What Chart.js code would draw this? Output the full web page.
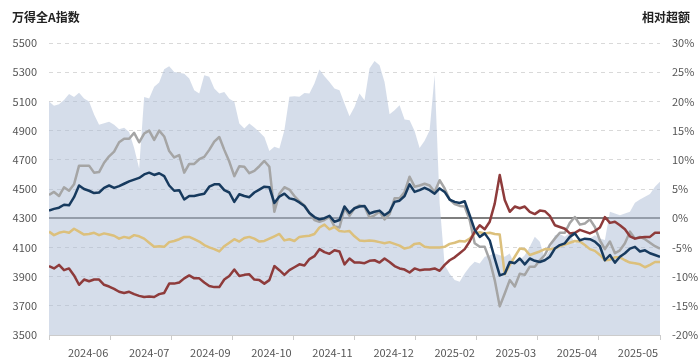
<!DOCTYPE html>
<html lang="zh">
<head>
<meta charset="UTF-8">
<title>万得全A指数 与 相对超额</title>
<script src="https://cdn.jsdelivr.net/npm/chart.js"></script>
<style>
  html, body { margin: 0; padding: 0; background: #fff; }
  #wrap { width: 700px; height: 362px; }
</style>
</head>
<body>
<div id="wrap"><canvas id="chart" width="700" height="362"></canvas></div>
<script>
// 万得全A指数 (左轴)
const indexLevel = [
  5100, 5070, 5080, 5110, 5150, 5130, 5160, 5120, 5100, 5010, 4940, 4950, 4960, 4940, 4910, 4920, 4890, 4780, 4640, 5130, 5120, 5200, 5230, 5320, 5340,
  5302, 5297, 5290, 5256, 5176, 5154, 5279, 5268, 5188, 5154, 5165, 5119, 5097, 4948, 4914, 4948, 4921, 4891, 4857, 4760, 4789, 4777, 4903, 5131,
  5135, 5131, 5158, 5154, 5222, 5318, 5272, 5233, 5188, 5176, 5085, 4998, 5062, 5154, 5108, 5325, 5377, 5347, 5233, 5012, 5040, 5074, 4976, 4971, 4898,
  4780, 4830, 4900, 5280, 4400, 3980, 3920, 3876, 3865, 3922, 3968, 4002, 3990, 4036, 4047, 4059, 4047, 4036, 4059, 3979, 4013, 4047, 4104, 4173, 4139,
  4025, 4082, 4184, 4191, 4173, 4200, 4123, 4168, 4150, 4161, 4184, 4161, 4150, 4344, 4333, 4321, 4333, 4344, 4405, 4428, 4447, 4465, 4515, 4549
];

// 相对超额 (右轴, %)
const navySeries = [
  1.3, 1.6, 1.8, 2.3, 2.2, 3.6, 5.6, 5.0, 4.7, 4.3, 4.4, 5.2, 5.6, 5.2, 5.5, 5.9, 6.3, 6.6, 6.9, 7.5, 7.8, 7.4, 7.7, 7.2, 5.6,
  4.7, 4.8, 3.2, 3.8, 3.8, 4.0, 4.2, 5.4, 5.8, 5.8, 4.8, 4.4, 2.8, 4.1, 3.8, 3.6, 4.4, 4.9, 5.4, 5.3, 2.6, 3.7, 4.2, 3.4,
  3.2, 2.7, 2.1, 0.9, 0.2, -0.2, 0.0, 0.4, -0.6, -0.3, 2.0, 0.9, 1.7, 2.0, 2.1, 0.8, 1.1, 1.3, 0.5, 1.1, 2.8, 3.0, 3.8, 5.8, 4.5,
  4.8, 5.2, 4.8, 4.2, 5.1, 4.5, 3.2, 2.8, 2.6, 2.9, 0.5, -2.0, -3.2, -2.6, -3.8, -6.9, -9.8, -9.5, -7.5, -7.7, -6.9, -7.9, -6.9, -7.3, -7.5,
  -7.2, -6.6, -5.2, -4.6, -4.3, -3.2, -2.6, -3.8, -3.5, -3.6, -4.0, -4.8, -7.2, -6.3, -7.6, -6.6, -6.0, -5.2, -4.9, -5.7, -5.5, -6.0, -6.3, -6.6
];
const graySeries = [
  4.0, 4.5, 3.8, 5.3, 4.7, 5.8, 9.0, 9.0, 9.0, 7.8, 7.9, 9.5, 10.6, 11.4, 13.0, 13.6, 13.6, 14.6, 13.0, 14.5, 15.0, 13.4, 15.0, 14.0, 11.5,
  10.4, 10.8, 7.8, 9.3, 9.3, 10.1, 10.5, 11.7, 13.1, 13.9, 11.7, 9.7, 7.2, 8.9, 8.8, 7.7, 8.1, 8.9, 9.8, 8.8, 1.1, 4.2, 5.3, 4.9,
  3.8, 2.9, 2.2, 0.9, -0.3, -0.6, -0.3, 0.2, -1.4, -1.6, 1.7, 0.4, 1.7, 2.2, 2.0, 0.1, 0.5, 1.1, -0.2, 0.7, 3.4, 3.4, 4.5, 7.1, 5.4,
  5.6, 5.9, 5.6, 4.5, 6.5, 5.1, 3.2, 2.4, 2.1, 2.0, -0.3, -4.3, -4.9, -4.9, -7.2, -10.6, -15.1, -12.9, -10.6, -11.7, -9.5, -9.7, -8.3, -8.3, -7.2,
  -6.3, -4.6, -3.5, -2.5, -2.5, -0.8, 0.2, -1.1, -0.9, -0.2, -1.5, -3.8, -5.3, -4.0, -6.0, -5.5, -4.3, -2.3, -3.5, -3.2, -3.6, -4.2, -4.8, -5.2
];
const goldSeries = [
  -2.3, -2.9, -2.5, -2.3, -2.5, -1.8, -2.3, -2.8, -2.7, -2.5, -2.9, -2.6, -2.8, -3.0, -3.5, -3.2, -3.4, -2.9, -3.1, -3.5, -4.2, -4.9, -4.8, -4.9, -4.1,
  -3.9, -3.6, -3.2, -3.2, -3.6, -4.0, -4.6, -5.0, -5.3, -5.7, -4.8, -4.2, -3.6, -4.0, -3.4, -3.2, -3.5, -4.0, -3.9, -3.5, -3.1, -2.7, -3.8, -3.6,
  -3.9, -3.2, -3.1, -3.0, -2.7, -1.6, -1.1, -1.9, -1.5, -2.2, -2.3, -2.2, -3.1, -3.8, -3.9, -3.8, -3.9, -4.1, -4.3, -4.1, -4.4, -4.7, -5.2, -5.0, -4.4,
  -4.3, -4.9, -5.0, -5.0, -5.0, -4.9, -4.4, -4.2, -3.9, -4.0, -3.5, -2.6, -2.4, -2.6, -2.5, -2.7, -2.8, -9.6, -8.0, -6.6, -5.2, -5.3, -6.3, -6.0, -5.7,
  -5.3, -5.3, -5.2, -4.8, -4.5, -4.2, -3.9, -4.0, -4.6, -5.3, -5.6, -6.3, -7.2, -7.1, -6.7, -6.7, -7.2, -7.6, -7.7, -7.9, -8.4, -8.0, -7.5, -7.5
];
const redSeries = [
  -8.2, -8.6, -8.0, -8.9, -8.6, -9.8, -11.4, -10.5, -10.8, -10.5, -10.5, -11.4, -11.7, -12.1, -12.6, -12.8, -12.6, -13.0, -13.3, -13.5, -13.4, -13.5, -13.0, -12.8, -11.2,
  -11.2, -11.0, -10.3, -9.8, -10.3, -10.3, -11.0, -11.6, -11.8, -11.8, -10.5, -9.9, -8.8, -9.9, -9.7, -9.6, -10.5, -10.6, -11.2, -10.6, -8.2, -8.9, -9.7, -8.9,
  -8.4, -7.9, -8.1, -7.0, -6.5, -5.3, -5.8, -6.1, -5.5, -5.7, -7.9, -6.9, -7.6, -7.6, -7.7, -7.3, -7.2, -7.6, -6.9, -7.5, -8.2, -8.6, -8.8, -9.3, -8.6,
  -8.9, -8.8, -8.8, -8.6, -9.0, -8.0, -7.2, -6.7, -6.0, -5.3, -4.0, -2.3, -1.2, -1.9, -0.6, 2.5, 7.4, 3.1, 1.1, 2.0, 1.7, 2.0, 1.1, 0.7, 1.3,
  1.2, 0.4, -1.2, -1.5, -1.8, -2.6, -2.5, -2.0, -2.3, -2.6, -2.2, -1.6, 0.2, -0.8, -0.6, -1.2, -1.9, -3.1, -3.5, -3.3, -3.2, -3.2, -2.5, -2.5
];

// x 轴标签
const monthLabels = ['2024-06', '2024-07', '2024-09', '2024-10', '2024-11', '2024-12', '2025-02', '2025-03', '2025-04', '2025-05'];

const dayIndex = indexLevel.map((_, i) => i);
const lastIndex = dayIndex.length - 1;
const tickStep = lastIndex / monthLabels.length;
const labelShift = 0.64;

// 两侧的轴标题
const axisTitles = {
  id: 'axisTitles',
  afterDraw(chart) {
    const ctx = chart.ctx;
    ctx.save();
    ctx.font = 'bold 12px "Noto Sans CJK SC", sans-serif';
    ctx.fillStyle = '#222';
    ctx.textBaseline = 'middle';
    ctx.textAlign = 'left';
    ctx.fillText('万得全A指数', 12, 17);
    ctx.textAlign = 'right';
    ctx.fillText('相对超额', 690, 17);
    ctx.restore();
  }
};

const isZero = c => c.tick && c.tick.value === 4300;

new Chart(document.getElementById('chart'), {
  type: 'line',
  data: {
    labels: dayIndex,
    datasets: [
      { data: navySeries, yAxisID: 'y1', borderColor: '#173a5e', borderWidth: 2.5 },
      { data: redSeries, yAxisID: 'y1', borderColor: '#8e3b3b', borderWidth: 2.5 },
      { data: goldSeries, yAxisID: 'y1', borderColor: '#dcc07c', borderWidth: 2.5 },
      { data: graySeries, yAxisID: 'y1', borderColor: '#a5a5a5', borderWidth: 2.5 },
      { data: indexLevel, yAxisID: 'y', borderWidth: 0, borderColor: 'rgba(0,0,0,0)',
        backgroundColor: 'rgba(172,188,214,0.5)', fill: 'start' }
    ]
  },
  options: {
    responsive: false,
    animation: false,
    layout: { padding: { top: 43, left: 0, right: 0, bottom: 0 } },
    elements: { point: { radius: 0 }, line: { tension: 0, borderJoinStyle: 'round' } },
    plugins: { legend: { display: false }, tooltip: { enabled: false } },
    scales: {
      x: {
        type: 'linear',
        min: 0,
        max: lastIndex,
        afterFit: s => { s.height = 27; },
        afterBuildTicks: s => {
          const t = [];
          for (let i = 0; i <= monthLabels.length; i++) {
            t.push({ value: i * tickStep });
            if (i < monthLabels.length) t.push({ value: (i + labelShift) * tickStep });
          }
          s.ticks = t;
        },
        grid: {
          drawOnChartArea: false,
          tickLength: 5,
          tickColor: c => (c.index % 2 === 0 ? '#cccccc' : 'rgba(0,0,0,0)')
        },
        border: { color: '#cccccc' },
        ticks: {
          autoSkip: false,
          maxRotation: 0,
          padding: 6,
          color: '#555',
          font: { size: 11, family: '"Noto Sans CJK SC", sans-serif' },
          callback: (v, i) => (i % 2 ? monthLabels[(i - 1) / 2] : '')
        }
      },
      y: {
        position: 'left',
        min: 3500,
        max: 5500,
        afterFit: s => { s.width = 49; },
        ticks: {
          stepSize: 200,
          padding: 12,
          color: '#555',
          font: { size: 11, family: '"Noto Sans CJK SC", sans-serif' },
          callback: v => String(v)
        },
        grid: {
          drawTicks: false,
          color: c => (isZero(c) ? '#7f7f7f' : '#d9d9d9'),
          lineWidth: c => (isZero(c) ? 2 : 1)
        },
        border: { display: false, dash: c => (isZero(c) ? [] : [4, 4]) }
      },
      y1: {
        position: 'right',
        min: -20,
        max: 30,
        afterFit: s => { s.width = 40; },
        ticks: {
          stepSize: 5,
          padding: 12,
          color: '#555',
          font: { size: 11, family: '"Noto Sans CJK SC", sans-serif' },
          callback: v => v + '%'
        },
        grid: { drawOnChartArea: false, drawTicks: false },
        border: { display: false }
      }
    }
  },
  plugins: [axisTitles]
});
</script>
</body>
</html>
